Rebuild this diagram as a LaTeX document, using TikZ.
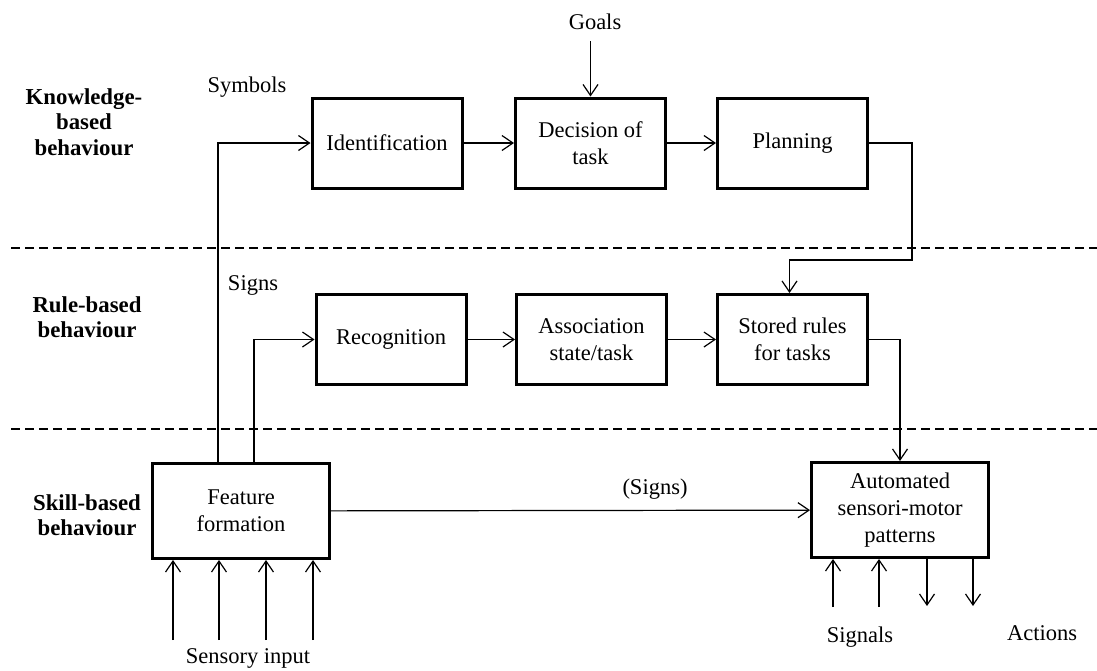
\documentclass[tikz,border=0pt]{standalone}
\usepackage{fontspec}
\setmainfont{Liberation Serif}
\usetikzlibrary{arrows.meta}

\begin{document}
\begin{tikzpicture}[x=1pt,y=-1pt,
	font=\fontsize{22.5}{27}\selectfont,
	block/.style={draw,line width=3pt,minimum width=150pt,minimum height=90pt,align=center},
	bigblock/.style={block,minimum width=177pt,minimum height=95pt},
	level/.style={font=\fontsize{22.8}{25.5}\selectfont\bfseries,align=center},
	conn/.style={line width=1.2pt},
	arr/.style={conn,-{Straight Barb[length=11pt,width=15pt,line width=1.2pt]}},
	divide/.style={line width=1.2pt,dash pattern=on 9pt off 5pt}]
	\useasboundingbox (0,0) rectangle (1097,670);
	% levels
	\node[level] (know) at (84,122) {Knowledge-\\based\\behaviour};
	\node[level] (rule) at (87,317) {Rule-based\\behaviour};
	\node[level] (skill) at (87,515) {Skill-based\\behaviour};
	\draw[divide] (11,248) -- (1097,248);
	\draw[divide] (11,429) -- (1097,429);
	% boxes
	\node[block] (ident) at (387,143) {Identification};
	\node[block] (dec)   at (590.5,143) {Decision of\\task};
	\node[block] (plan)  at (792.5,143) {Planning};
	\node[block] (recog) at (391,339.5) {Recognition};
	\node[block] (assoc) at (591.5,339.5) {Association\\state/task};
	\node[block] (rules) at (792.5,339.5) {Stored rules\\for tasks};
	\node[bigblock] (feat) at (241,511) {Feature\\formation};
	\node[bigblock] (auto) at (900,510) {Automated\\sensori-motor\\patterns};
	% labels
	\node (goals) at (595,22) {Goals};
	\node (symb) at (247,87) {Symbols};
	\node (signs) at (253,285) {Signs};
	\node (psigns) at (655,489) {(Signs)};
	\node (sens) at (248,658) {Sensory input};
	\node (sigl) at (860,637) {Signals};
	\node (act) at (1042,633) {Actions};
	% connectors
	\draw[arr] (goals.south -| dec.north) ++(0,8) -- (dec.north);
	\draw[arr] ([xshift=67pt]feat.north west) |- (ident);
	\draw[arr] ([xshift=103pt]feat.north west) |- (recog);
	\draw[arr] (ident) -- (dec);
	\draw[arr] (dec) -- (plan);
	\draw[arr] (recog) -- (assoc);
	\draw[arr] (assoc) -- (rules);
	\draw[arr] (plan.east) -- ++(43,0) -- ++(0,117) -| ([xshift=-3pt]rules.north);
	\draw[arr] (rules.east) -| (auto.north);
	\draw[arr] (feat) -- (auto);
	% sensory input
	\foreach \x [count=\i] in {173,219,266,313}{
		\coordinate (in\i) at (\x,640);
		\draw[arr] (in\i) -- (in\i |- feat.south);
	}
	% signals and actions
	\foreach \x [count=\i] in {833,879}{
		\coordinate (sg\i) at (\x,607);
		\draw[arr] (sg\i) -- (sg\i |- auto.south);
	}
	\foreach \x [count=\i] in {927,973}{
		\coordinate (ac\i) at (\x,606);
		\draw[arr] (ac\i |- auto.south) -- (ac\i);
	}
\end{tikzpicture}
\end{document}
